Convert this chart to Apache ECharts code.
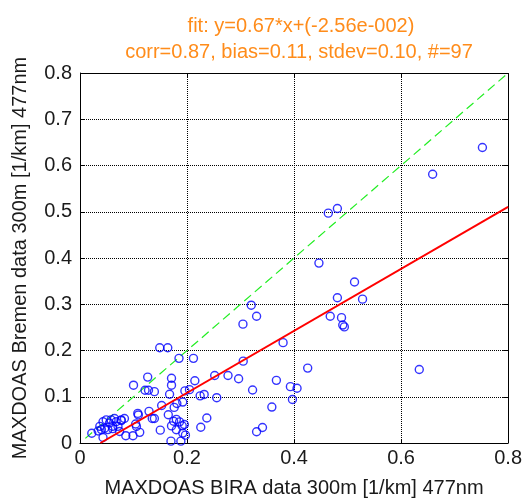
<!DOCTYPE html>
<html><head><meta charset="utf-8">
<script src="https://cdn.jsdelivr.net/npm/echarts@6/dist/echarts.min.js"></script>
<style>html,body{margin:0;padding:0;background:#fff}#c{width:525px;height:503px}</style>
</head><body><div id="c"></div>
<script>
// Data: [BIRA, Bremen]
const points = [
[0.464,0.497],[0.481,0.507],[0.659,0.581],[0.752,0.639],
[0.4465,0.389],[0.513,0.348],[0.481,0.314],[0.528,0.311],[0.320,0.298],[0.330,0.274],
[0.3045,0.257],[0.4676,0.274],[0.4887,0.271],[0.491,0.255],[0.494,0.251],[0.3795,0.217],
[0.305,0.177],[0.4255,0.162],[0.634,0.159],[0.149,0.206],[0.164,0.206],[0.185,0.183],
[0.212,0.183],[0.1265,0.1425],[0.171,0.140],[0.171,0.125],[0.100,0.125],[0.1215,0.114],
[0.128,0.114],[0.139,0.111],[0.1674,0.1055],[0.2146,0.1346],[0.2517,0.146],[0.2766,0.146],
[0.2964,0.139],[0.367,0.1355],[0.3225,0.1147],[0.3932,0.1218],[0.4056,0.1184],[0.397,0.094],
[0.196,0.1126],[0.2046,0.1154],[0.2245,0.102],[0.232,0.105],[0.2555,0.098],[0.192,0.0885],
[0.181,0.0855],[0.1526,0.081],[0.176,0.077],[0.3585,0.0777],[0.129,0.0684],[0.108,0.064],
[0.109,0.0607],[0.135,0.053],[0.139,0.053],[0.165,0.061],[0.18,0.051],[0.175,0.047],
[0.186,0.0457],[0.191,0.037],[0.195,0.040],[0.171,0.037],[0.237,0.054],[0.2257,0.034],
[0.150,0.0278],[0.18,0.0286],[0.192,0.0214],[0.197,0.017],[0.17,0.004],[0.1885,0.004],
[0.341,0.0335],[0.330,0.0244],[0.1116,0.023],[0.099,0.0158],[0.0856,0.0158],[0.104,0.041],
[0.1055,0.0357],[0.083,0.053],[0.077,0.0485],
[0.022,0.021],[0.034,0.026],[0.037,0.036],[0.040,0.029],[0.043,0.046],[0.046,0.032],
[0.049,0.050],[0.052,0.029],[0.055,0.043],[0.058,0.050],[0.061,0.036],[0.0645,0.053],
[0.0675,0.046],[0.071,0.036],[0.077,0.050],[0.074,0.025],[0.043,0.012],[0.061,0.031]
];
const fitSlope = 0.67;
const fitIntercept = -0.0256;
const fitX = [0.0382, 0.8];
const oneToOneX = [0.01, 0.8];
const xTicks = [0, 0.2, 0.4, 0.6, 0.8];
const yTicks = [0, 0.1, 0.2, 0.3, 0.4, 0.5, 0.6, 0.7, 0.8];
const titleLines = ['fit: y=0.67*x+(-2.56e-002)', 'corr=0.87, bias=0.11, stdev=0.10, #=97'];
const xName = 'MAXDOAS BIRA data 300m [1/km] 477nm';
const yName = 'MAXDOAS Bremen data 300m [1/km] 477nm';

const fitLine = fitX.map(x => [x, fitSlope * x + fitIntercept]);
const oneLine = oneToOneX.map(x => [x, x]);
const font = 'Liberation Sans, Arial, sans-serif';
const orange = '#FF8C1A';
const txt = '#1a1a1a';
const X0 = xTicks[0], X1 = xTicks[xTicks.length - 1];
const Y0 = yTicks[0], Y1 = yTicks[yTicks.length - 1];
const tx = 0.0093, ty = 0.0086; // ~5px tick length in data units

const solid = {color: '#000', type: 'solid', width: 1};
const frameMarks = [];
frameMarks.push([{coord: [X0, Y1]}, {coord: [X1, Y1]}]);
frameMarks.push([{coord: [X1, Y0]}, {coord: [X1, Y1]}]);
xTicks.forEach(v => {
  frameMarks.push([{coord: [v, Y0]}, {coord: [v, Y0 + ty]}]);
  frameMarks.push([{coord: [v, Y1]}, {coord: [v, Y1 - ty]}]);
});
yTicks.forEach(v => {
  frameMarks.push([{coord: [X0, v]}, {coord: [X0 + tx, v]}]);
  frameMarks.push([{coord: [X1, v]}, {coord: [X1 - tx, v]}]);
});

const chart = echarts.init(document.getElementById('c'));
chart.setOption({
  animation: false,
  title: [
    {text: titleLines[0], left: 296, top: 11, textAlign: 'center',
     textStyle: {color: orange, fontSize: 20, fontWeight: 'normal', fontFamily: font}},
    {text: titleLines[1], left: 294, top: 37, textAlign: 'center',
     textStyle: {color: orange, fontSize: 20, fontWeight: 'normal', fontFamily: font}}
  ],
  grid: {left: 80, right: 15, top: 73, bottom: 56},
  xAxis: {
    type: 'value', min: X0, max: X1, interval: 0.2,
    name: xName, nameLocation: 'middle', nameGap: 35,
    nameTextStyle: {fontSize: 20, color: txt, fontFamily: font},
    axisLine: {show: true, lineStyle: {color: '#000'}},
    axisTick: {show: false},
    axisLabel: {fontSize: 20, color: txt, fontFamily: font, margin: 5},
    splitLine: {show: true, lineStyle: {color: '#000', type: 'dotted'}}
  },
  yAxis: {
    type: 'value', min: Y0, max: Y1, interval: 0.1,
    name: yName, nameLocation: 'middle', nameGap: 50, nameRotate: 90,
    nameTextStyle: {fontSize: 20, color: txt, fontFamily: font},
    axisLine: {show: true, lineStyle: {color: '#000'}},
    axisTick: {show: false},
    axisLabel: {fontSize: 20, color: txt, fontFamily: font, margin: 8},
    splitLine: {show: true, lineStyle: {color: '#000', type: 'dotted'}}
  },
  series: [
    {type: 'line', data: oneLine, symbol: 'none', z: 1, silent: true,
     lineStyle: {opacity: 0},
     markLine: {silent: true, symbol: ['none', 'none'], animation: false,
       label: {show: false}, lineStyle: solid, data: frameMarks}},
    {type: 'line', data: oneLine, symbol: 'none', z: 3,
     lineStyle: {color: '#22ee22', width: 1.2, type: [9, 5]}},
    {type: 'scatter', data: points, symbol: 'circle', symbolSize: 8, z: 4,
     itemStyle: {color: 'rgba(0,0,0,0)', borderColor: '#0000ff', borderWidth: 1.4}},
    {type: 'line', data: fitLine, symbol: 'none', z: 5,
     lineStyle: {color: '#ff0000', width: 2}}
  ]
});
</script></body></html>
